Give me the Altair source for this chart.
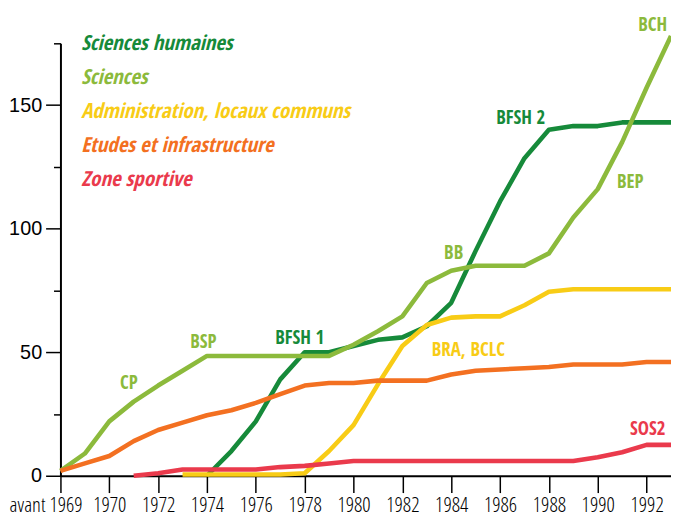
import altair as alt
import pandas as pd

years = list(range(1968, 1994))

series_names = [
    "Sciences humaines",
    "Sciences",
    "Administration, locaux communs",
    "Etudes et infrastructure",
    "Zone sportive",
]
series_colors = ["#168a3a", "#8cba3c", "#f8cc16", "#f37021", "#ea3a4c"]

# values per year (None = not yet present)
sciences_humaines = [None, None, None, None, None, None, 0, 10, 22, 39, 50, 50, 52.5, 55, 56,
                     60.5, 70, 91, 111, 128.5, 140, 141.5, 141.5, 143, 143, 143]
sciences = [2, 9, 22, 30, 36.5, 42.5, 48.5, 48.5, 48.5, 48.5, 48.5, 48.5, 53, 58.5, 64.5,
            78, 83, 85, 85, 85, 90, 104.5, 116, 135, 157, 178]
administration = [None, None, None, None, None, 0.5, 0.5, 0.5, 0.5, 0.5, 1, 10, 20.5, 37, 52.5,
                  61, 64, 64.5, 64.5, 69, 74.5, 75.5, 75.5, 75.5, 75.5, 75.5]
etudes = [2, 5, 8, 14, 18.5, 21.5, 24.5, 26.5, 29.5, 33, 36.5, 37.5, 37.5, 38.5, 38.5,
          38.5, 41, 42.5, 43, 43.5, 44, 45, 45, 45, 46, 46]
zone_sportive = [None, None, None, 0, 1, 2.5, 2.5, 2.5, 2.5, 3.5, 4, 5, 6, 6, 6,
                 6, 6, 6, 6, 6, 6, 6, 7.5, 9.5, 12.5, 12.5]

all_series = [sciences_humaines, sciences, administration, etudes, zone_sportive]

rows = []
for name, vals in zip(series_names, all_series):
    for y, v in zip(years, vals):
        if v is not None:
            rows.append({"annee": y, "valeur": v, "serie": name})
df = pd.DataFrame(rows)

# annotations (label, year, value, series)
ann_labels = ["CP", "BSP", "BFSH 1", "BB", "BFSH 2", "BEP", "BRA, BCLC", "BCH", "SOS2"]
ann_years = [1970.8, 1973.85, 1977.8, 1984.1, 1986.85, 1991.33, 1984.7, 1992.25, 1992.05]
ann_values = [35.2, 51.9, 53.2, 87.9, 142.5, 116.3, 48.5, 179.9, 16.3]
ann_series = ["Sciences", "Sciences", "Sciences humaines", "Sciences", "Sciences humaines",
              "Sciences", "Administration, locaux communs", "Sciences", "Zone sportive"]
ann = pd.DataFrame({"label": ann_labels, "annee": ann_years, "valeur": ann_values, "serie": ann_series})

y_ticks = [0, 25, 50, 75, 100, 125, 150, 175]

narrow = "'Open Sans Condensed', 'Liberation Sans Narrow', 'Liberation Sans', sans-serif"
narrow_light = "'Open Sans Condensed Light', 'Open Sans Condensed', 'Liberation Sans', sans-serif"

color_scale = alt.Scale(domain=series_names, range=series_colors)

x_enc = alt.X(
    "annee:Q",
    scale=alt.Scale(domain=[1968, 1993], nice=False, zero=False),
    axis=alt.Axis(
        title=None,
        values=years,
        format="d",
        labelExpr="datum.value == 1968 ? 'avant 1969' : (datum.value % 2 == 0 ? datum.value : '')",
        labelOffset={"expr": "datum.value == 1968 ? -15 : 0"},
        labelFlush=False,
        labelOverlap=False,
        labelBound=False,
        tickSize=17,
        tickWidth=1.5,
        tickColor="black",
        domainColor="black",
        domainWidth=2,
        labelFont=narrow_light,
        labelFontSize=21,
        labelFontWeight=300,
        labelColor="black",
        labelPadding=2,
        grid=False,
    ),
)
y_enc = alt.Y(
    "valeur:Q",
    scale=alt.Scale(domain=[0, 175], nice=False),
    axis=alt.Axis(
        title=None,
        values=y_ticks,
        labelExpr="datum.value % 50 == 0 ? datum.value : ''",
        tickSize={"expr": "datum.value % 50 == 0 ? 15 : 7"},
        tickWidth=1.5,
        tickColor="black",
        domainColor="black",
        domainWidth=2,
        labelFont="Liberation Sans, Arial, sans-serif",
        labelFontSize=20,
        labelColor="black",
        labelPadding=4,
        labelFlush=False,
        labelOverlap=False,
        grid=False,
    ),
)

lines = alt.Chart(df).mark_line(strokeWidth=4.6, strokeJoin="round", strokeCap="butt").encode(
    x=x_enc,
    y=y_enc,
    color=alt.Color(
        "serie:N",
        scale=color_scale,
        legend=alt.Legend(
            title=None,
            orient="none",
            legendX=0,
            legendY=-10,
            symbolOpacity=0,
            symbolStrokeWidth=0,
            symbolSize=1,
            labelOffset=0,
            labelFont=narrow,
            labelFontSize=21,
            labelFontWeight="bold",
            labelFontStyle="italic",
            labelLimit=500,
            labelColor={"expr": "scale('color', datum.value)"},
            rowPadding=12.5,
            padding=0,
        ),
    ),
    order=alt.Order("annee:Q"),
)

labels = alt.Chart(ann).mark_text(
    font=narrow, fontSize=19, fontWeight="bold", align="center", baseline="alphabetic"
).encode(
    x="annee:Q",
    y="valeur:Q",
    text="label:N",
    color=alt.Color("serie:N", scale=color_scale),
)

chart = alt.layer(lines, labels).properties(
    width=617,
    height=437,
    autosize=alt.AutoSizeParams(type="none"),
    padding={"left": 53, "top": 33, "right": 0, "bottom": 40},
    background="white",
).configure_view(stroke=None)

chart.save("out.html", embed_options={"renderer": "svg", "actions": False})
